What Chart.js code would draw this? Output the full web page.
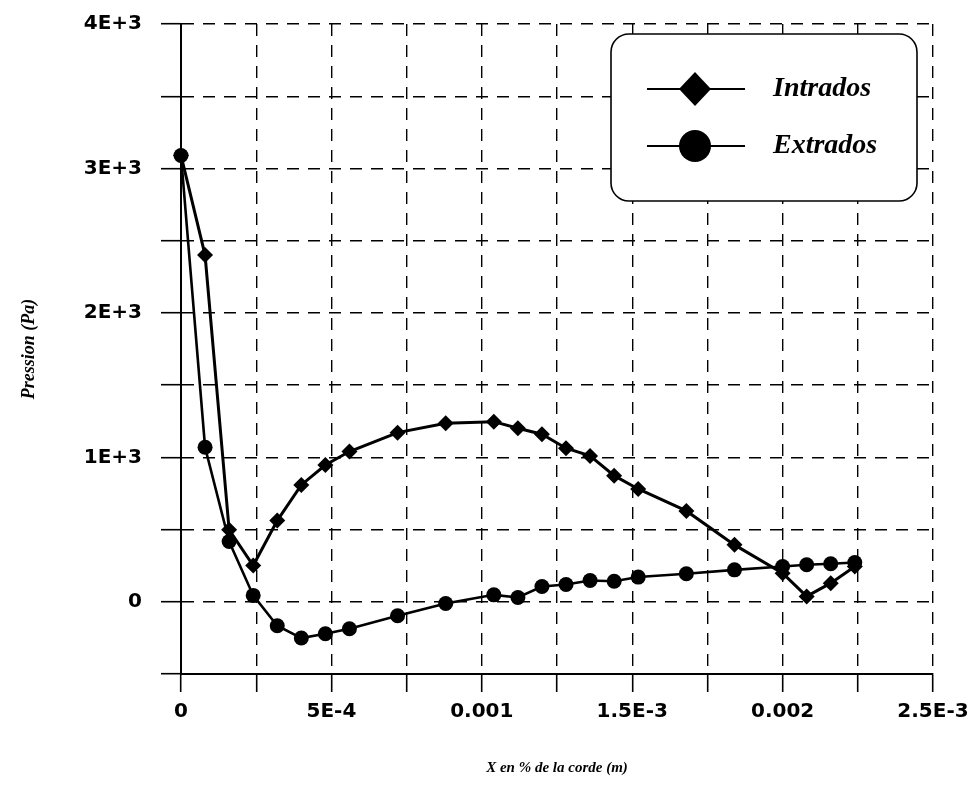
<!DOCTYPE html>
<html>
<head>
<meta charset="utf-8">
<script src="https://cdn.jsdelivr.net/npm/chart.js@4.4.1/dist/chart.umd.min.js"></script>
<style>
  html, body { margin: 0; padding: 0; background: #fff; }
  #wrap { width: 972px; height: 793px; position: relative; }
</style>
</head>
<body>
<div id="wrap"><canvas id="c" width="972" height="793"></canvas></div>
<script>
// ---- data ----
const xPositions = [0, 0.00008, 0.00016, 0.00024, 0.00032, 0.0004, 0.00048, 0.00056, 0.00072, 0.00088,
  0.00104, 0.00112, 0.0012, 0.00128, 0.00136, 0.00144, 0.00152, 0.00168, 0.00184, 0.002,
  0.00208, 0.00216, 0.00224];
const intradosValues = [3090, 2400, 498, 251, 562, 809, 947, 1040, 1171, 1236,
  1247, 1201, 1160, 1063, 1010, 873, 781, 629, 394, 198,
  37, 129, 244];
const extradosValues = [3090, 1070, 417, 44, -166, -251, -221, -187, -97, -12,
  48, 30, 106, 120, 147, 142, 171, 194, 221, 244,
  256, 263, 272];
const seriesNames = ['Intrados', 'Extrados'];
const yTickValues = [0, 1000, 2000, 3000, 4000];
const yTickText = ['0', '1E+3', '2E+3', '3E+3', '4E+3'];
const xTickValues = [0, 0.0005, 0.001, 0.0015, 0.002, 0.0025];
const xTickText = ['0', '5E-4', '0.001', '1.5E-3', '0.002', '2.5E-3'];
const xAxisTitle = 'X en % de la corde (m)';
const yAxisTitle = 'Pression (Pa)';

function toPoints(xs, ys) { return xs.map((x, i) => ({ x: x, y: ys[i] })); }
function labelFor(v, vals, texts, tol) {
  for (let i = 0; i < vals.length; i++) if (Math.abs(v - vals[i]) < tol) return texts[i];
  return '';
}

const legendBox = {
  id: 'legendBox',
  afterDraw(chart) {
    const ctx = chart.ctx;
    const x0 = 611, y0 = 34, w = 306, h = 167, r = 18;
    ctx.save();
    ctx.beginPath();
    ctx.roundRect(x0, y0, w, h, r);
    ctx.fillStyle = '#fff';
    ctx.fill();
    ctx.lineWidth = 1.6;
    ctx.strokeStyle = '#000';
    ctx.stroke();
    const rows = [89, 146];
    chart.data.datasets.forEach((ds, i) => {
      const y = rows[i];
      ctx.beginPath();
      ctx.moveTo(647, y); ctx.lineTo(745, y);
      ctx.lineWidth = 2.2; ctx.strokeStyle = '#000'; ctx.stroke();
      ctx.beginPath();
      if (ds.pointStyle === 'rectRot') {
        ctx.moveTo(695 - 16, y); ctx.lineTo(695, y - 17); ctx.lineTo(695 + 16, y); ctx.lineTo(695, y + 17); ctx.closePath();
      } else {
        ctx.arc(695, y, 16, 0, Math.PI * 2);
      }
      ctx.fillStyle = '#000'; ctx.fill();
      ctx.font = 'italic bold 28px "Liberation Serif", "Times New Roman", serif';
      ctx.textBaseline = 'middle';
      ctx.textAlign = 'left';
      ctx.fillText(ds.label, 773, y);
    });
    ctx.restore();
  }
};

new Chart(document.getElementById('c'), {
  type: 'line',
  data: {
    datasets: [
      {
        label: seriesNames[0],
        data: toPoints(xPositions, intradosValues),
        borderColor: '#000', backgroundColor: '#000', borderWidth: 3,
        pointStyle: 'rectRot', pointRadius: 8, pointBorderWidth: 0,
        pointBackgroundColor: '#000', tension: 0, order: 1, clip: false
      },
      {
        label: seriesNames[1],
        data: toPoints(xPositions, extradosValues),
        borderColor: '#000', backgroundColor: '#000', borderWidth: 2.6,
        pointStyle: 'circle', pointRadius: 7.5, pointBorderWidth: 0,
        pointBackgroundColor: '#000', tension: 0, order: 0, clip: false
      }
    ]
  },
  options: {
    responsive: false,
    animation: false,
    devicePixelRatio: 1,
    layout: { padding: { left: 0, top: 24, right: 39, bottom: 0 } },
    plugins: { legend: { display: false }, tooltip: { enabled: false } },
    scales: {
      x: {
        type: 'linear', position: 'bottom',
        min: 0, max: 0.0025,
        afterFit(s) { s.height = 119; s.paddingLeft = 0; s.paddingRight = 0; },
        ticks: {
          stepSize: 0.00025, autoSkip: false, maxRotation: 0, padding: 8,
          color: '#000',
          font: { family: '"DejaVu Sans", sans-serif', size: 20, weight: 'bold' },
          callback: (v) => labelFor(v, xTickValues, xTickText, 1e-9)
        },
        grid: { color: '#000', lineWidth: 1.4, tickLength: 18, tickBorderDash: [], tickWidth: 1.6 },
        border: { display: true, color: '#000', width: 2, dash: [12, 9] },
        title: {
          display: true, text: xAxisTitle, color: '#000',
          font: { family: '"Liberation Serif", "Times New Roman", serif', size: 15, style: 'italic', weight: 'bold' },
          padding: { top: 0, bottom: 16 }
        }
      },
      y: {
        type: 'linear', position: 'left',
        min: -500, max: 4000,
        afterFit(s) { s.width = 181; s.paddingTop = 0; s.paddingBottom = 0; },
        ticks: {
          stepSize: 500, autoSkip: false, padding: 19,
          color: '#000',
          font: { family: '"DejaVu Sans", sans-serif', size: 20, weight: 'bold' },
          callback: (v) => labelFor(v, yTickValues, yTickText, 1e-6)
        },
        grid: { color: '#000', lineWidth: 1.4, tickLength: 20, tickBorderDash: [], tickWidth: 1.6 },
        border: { display: true, color: '#000', width: 2, dash: [12, 9] },
        title: {
          display: true, text: yAxisTitle, color: '#000',
          font: { family: '"Liberation Serif", "Times New Roman", serif', size: 18, style: 'italic', weight: 'bold' },
          padding: { top: 19, bottom: 0 }
        }
      }
    }
  },
  plugins: [legendBox]
});
</script>
</body>
</html>
